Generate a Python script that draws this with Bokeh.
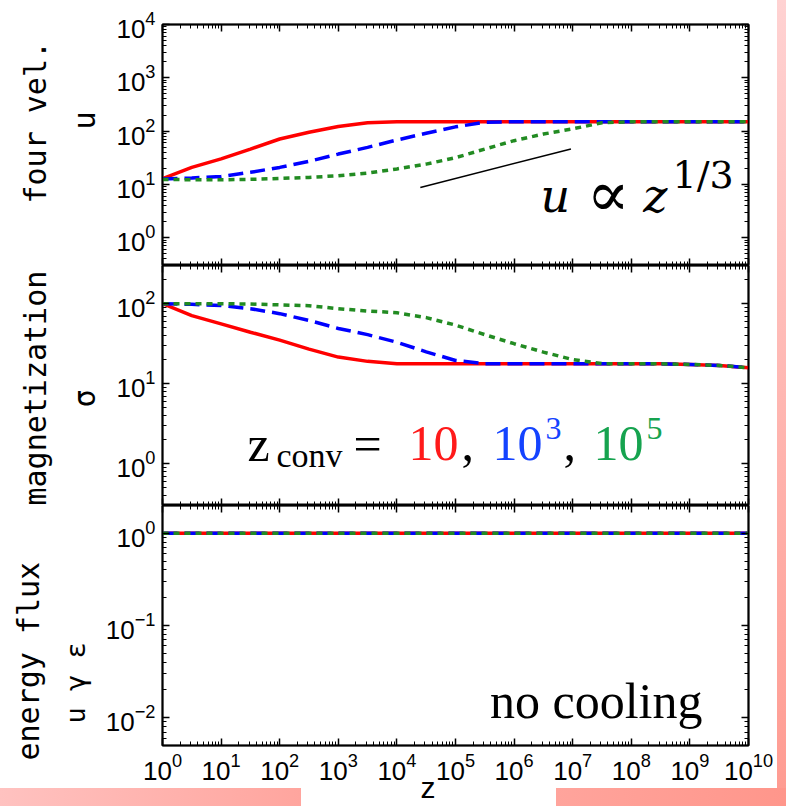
from bokeh.plotting import figure
from bokeh.models import LogAxis, FixedTicker, CustomJSTickFormatter, Label, Title
from bokeh.layouts import column
from bokeh.embed import file_html
from bokeh.resources import INLINE

# ---------------- data ----------------
log_z = [0, 0.5, 1, 1.5, 2, 2.5, 3, 3.5, 4, 4.5, 5, 5.5, 6, 6.5, 7, 7.5, 8, 8.5, 9, 9.5, 10]

# four velocity u for z_conv = 10, 1e3, 1e5
u_red = [12.8, 20.8, 30, 46, 71, 95, 122, 143, 149, 150, 150, 150, 150, 150, 150, 150, 150, 150, 150, 150, 150]
u_blue = [12.6, 13.2, 14.1, 16.8, 20.8, 27, 37, 49.5, 68, 91, 120, 146, 150, 150, 150, 150, 150, 150, 150, 150, 150]
u_green = [12.4, 12.2, 12.2, 12.4, 12.9, 13.5, 14.5, 16.3, 19.5, 24, 31.6, 46, 66, 88, 110, 143, 150, 150, 150, 150, 150]

# magnetization sigma
s_red = [100, 71, 56, 44, 35, 27, 21.5, 19, 17.8, 17.8, 17.8, 17.8, 17.8, 17.8, 17.8, 17.8, 17.8, 17.7, 17.4, 16.9, 15.8]
s_blue = [100, 98, 95, 86.6, 75, 61.7, 49, 41, 33, 25, 19.5, 17.8, 17.8, 17.8, 17.8, 17.8, 17.8, 17.7, 17.4, 16.9, 15.8]
s_green = [100, 100, 100, 99, 96.6, 94.4, 86.6, 81, 77, 67, 54, 41, 31.6, 24.8, 20, 17.8, 17.8, 17.7, 17.4, 16.9, 15.8]

# energy flux u*gamma*eps
e_red = [1.0, 1.0, 1.0, 1.0, 1.0, 1.0, 1.0, 1.0, 1.0, 1.0, 1.0, 1.0, 1.0, 1.0, 1.0, 1.0, 1.0, 1.0, 1.0, 1.0, 1.0]
e_blue = [1.0, 1.0, 1.0, 1.0, 1.0, 1.0, 1.0, 1.0, 1.0, 1.0, 1.0, 1.0, 1.0, 1.0, 1.0, 1.0, 1.0, 1.0, 1.0, 1.0, 1.0]
e_green = [1.0, 1.0, 1.0, 1.0, 1.0, 1.0, 1.0, 1.0, 1.0, 1.0, 1.0, 1.0, 1.0, 1.0, 1.0, 1.0, 1.0, 1.0, 1.0, 1.0, 1.0]

# reference slope line u ~ z^(1/3)
ref_z = [10 ** 4.4, 10 ** 6.97]
ref_u = [8.75, 46]

z = [10 ** v for v in log_z]

x_major = [10 ** k for k in range(0, 11)]
x_minor = [m * 10 ** k for k in range(0, 10) for m in range(2, 10)]


def log_ticks(lo, hi):
    major = [10.0 ** k for k in range(lo, hi + 1)]
    minor = [m * 10.0 ** k for k in range(lo - 1, hi + 1) for m in range(2, 10)]
    return FixedTicker(ticks=major, minor_ticks=minor)


RED, BLUE, GREEN = "#ff0000", "#0000ff", "#228b22"
W = 786
LEFT, RIGHT = 162, 38
TICK_FONT = "Liberation Sans"
MONO = "DejaVu Sans Mono"
SERIF = "Liberation Serif"


def style_axis(ax, labels):
    ax.axis_line_width = 1.5
    ax.axis_line_color = "black"
    ax.major_tick_in = 7
    ax.major_tick_out = 0
    ax.minor_tick_in = 4
    ax.minor_tick_out = 0
    ax.major_tick_line_width = 1.5
    ax.minor_tick_line_width = 1
    ax.major_tick_line_color = "black"
    ax.minor_tick_line_color = "black"
    if labels:
        ax.major_label_text_font = TICK_FONT
        ax.major_label_text_font_size = "26px"
        ax.major_label_text_color = "black"
        ax.major_label_standoff = 7
    else:
        ax.formatter = CustomJSTickFormatter(code="return ''")
        ax.major_label_text_font_size = "0px"
        ax.major_label_standoff = 0


def make_panel(height, y_range, ylo, yhi, top, bottom, xlabels):
    p = figure(width=W, height=height, x_axis_type="log", y_axis_type="log",
               x_range=(1, 1e10), y_range=y_range, output_backend="svg",
               toolbar_location=None, min_border_left=LEFT, min_border_right=RIGHT,
               min_border_top=top, min_border_bottom=bottom)
    p.border_fill_color = None
    p.background_fill_color = "white"
    p.outline_line_color = "black"
    p.outline_line_width = 2
    p.xgrid.visible = False
    p.ygrid.visible = False
    p.yaxis.ticker = log_ticks(ylo, yhi)
    p.xaxis.ticker = FixedTicker(ticks=x_major, minor_ticks=x_minor)
    style_axis(p.yaxis[0], True)
    style_axis(p.xaxis[0], xlabels)
    ra = LogAxis(ticker=log_ticks(ylo, yhi))
    style_axis(ra, False)
    p.add_layout(ra, "right")
    ta = LogAxis(ticker=FixedTicker(ticks=x_major, minor_ticks=x_minor))
    style_axis(ta, False)
    p.add_layout(ta, "above")
    return p


def add_curves(p, r, b, g):
    p.line(z, r, line_color=RED, line_width=3.5)
    p.line(z, b, line_color=BLUE, line_width=3.5, line_dash="15 7")
    p.line(z, g, line_color=GREEN, line_width=3.5, line_dash="6 5")


def side_titles(p, inner, inner_off, outer, outer_off, inner_size="30px"):
    p.add_layout(Title(text=inner, align="left", offset=inner_off, standoff=23,
                       text_font=MONO, text_font_size=inner_size,
                       text_font_style="normal", text_color="black"), "left")
    p.add_layout(Title(text=outer, align="left", offset=outer_off, standoff=1,
                       text_font=MONO, text_font_size="30px",
                       text_font_style="normal", text_color="black"), "left")


def txt(p, x, y, text, color="black", size="50px", align="left", font=SERIF, style="normal"):
    p.add_layout(Label(x=x, y=y, x_units="screen", y_units="screen", text=text,
                       text_align=align, text_baseline="alphabetic", text_font=font,
                       text_font_style=style, text_font_size=size, text_color=color))


# ---------------- panel 1 : four velocity ----------------
p1 = make_panel(265, (0.3, 1e4), 0, 4, 24, 0, False)
add_curves(p1, u_red, u_blue, u_green)
p1.line(ref_z, ref_u, line_color="black", line_width=1.5)
side_titles(p1, "u", 136, "four vel.", 62)
txt(p1, 378, 70, "u", size="46px", font="DejaVu Serif", style="italic")
txt(p1, 424, 72, "∝", size="64px", font="DejaVu Serif")
txt(p1, 505, 70, "z", size="46px", align="right", font="DejaVu Serif", style="italic")
txt(p1, 510, 91, "1/3", size="38px", font="DejaVu Serif")

# ---------------- panel 2 : magnetization ----------------
p2 = make_panel(240, (0.3, 300), 0, 2, 0, 0, False)
add_curves(p2, s_red, s_blue, s_green)
side_titles(p2, "σ", 98, "magnetization", 0)

TR, TB, TG = "#ff1a1a", "#1443ff", "#16a34f"
txt(p2, 85, 62, "z")
txt(p2, 114, 50, "conv", size="34px")
txt(p2, 191, 62, "=")
txt(p2, 246, 62, "10", TR)
txt(p2, 299, 62, ",")
txt(p2, 330, 62, "10", TB)
txt(p2, 383, 77, "3", TB, size="32px")
txt(p2, 401, 62, ",")
txt(p2, 431, 62, "10", TG)
txt(p2, 484, 77, "5", TG, size="32px")

# ---------------- panel 3 : energy flux ----------------
p3 = make_panel(301, (0.005, 2), -2, 0, 0, 61, True)
add_curves(p3, e_red, e_blue, e_green)
side_titles(p3, "u  γ  ε", 22, "energy flux", -15, inner_size="27px")
txt(p3, 540, 45, "no cooling", align="right")
p3.add_layout(Title(text="z", align="left", offset=258, standoff=-24, vertical_align="top",
                    text_font=TICK_FONT, text_font_size="30px",
                    text_font_style="normal", text_color="black"), "below")

layout = column(p1, p2, p3, spacing=0, styles={
    "background-image": ("linear-gradient(180deg, #ffd2d2, #ff9c92), "
                         "linear-gradient(90deg, #ffc2c0, #ffa59e), "
                         "linear-gradient(90deg, #ffa49c, #ff968b)"),
    "background-size": "9px 788px, 301px 18px, 230px 18px",
    "background-position": "777px 0px, 0px 788px, 556px 788px",
    "background-repeat": "no-repeat",
})

open("out.html", "w").write(file_html(layout, INLINE))
